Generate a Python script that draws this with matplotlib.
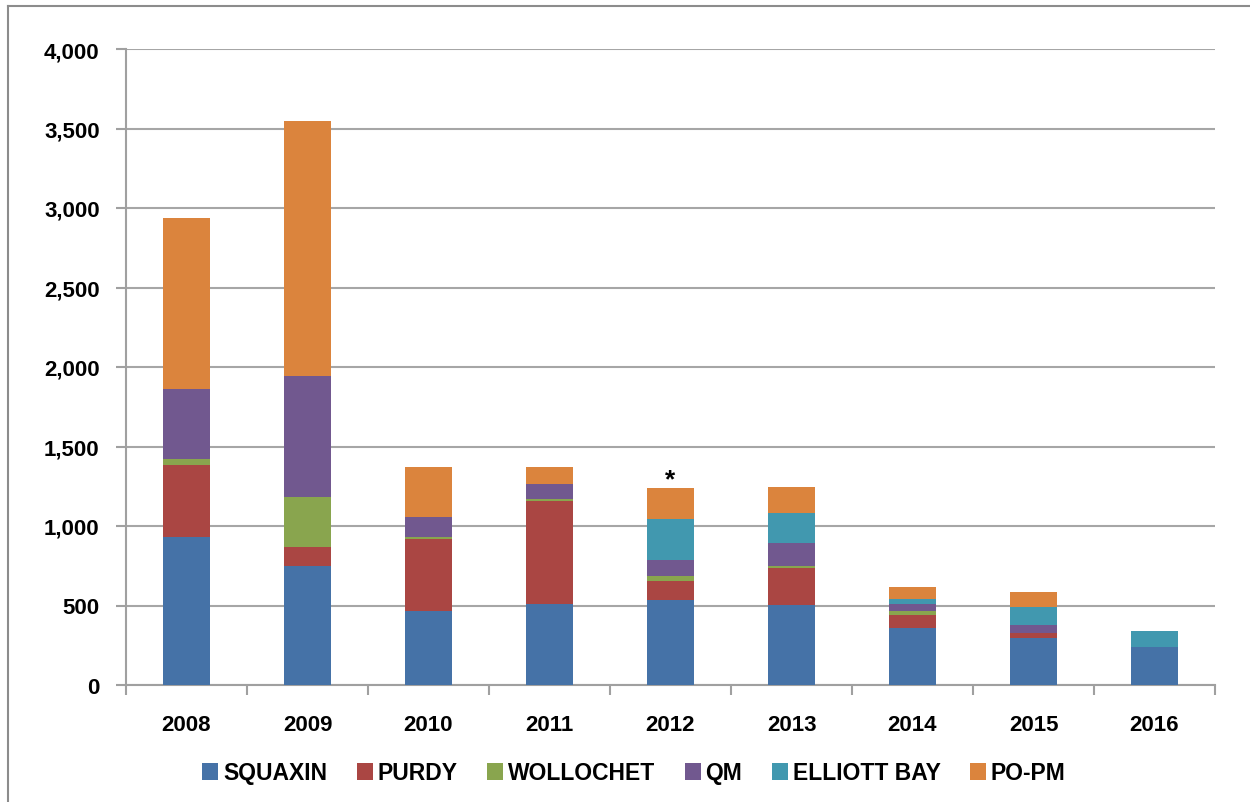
import matplotlib
matplotlib.use("Agg")
import matplotlib.pyplot as plt
from matplotlib.lines import Line2D
import numpy as np

plt.rcParams['font.family'] = ['Liberation Sans', 'DejaVu Sans']

years = ['2008', '2009', '2010', '2011', '2012', '2013', '2014', '2015', '2016']
series_names = ['SQUAXIN', 'PURDY', 'WOLLOCHET', 'QM', 'ELLIOTT BAY', 'PO-PM']
squaxin = [928, 748, 466, 510, 537, 502, 357, 293, 238]
purdy = [453, 117, 451, 646, 119, 236, 82, 37, 0]
wollochet = [38, 318, 11, 16, 27, 10, 27, 0, 0]
qm = [445, 763, 127, 93, 101, 144, 46, 46, 0]
elliott_bay = [0, 0, 0, 0, 263, 191, 27, 117, 101]
po_pm = [1076, 1604, 318, 108, 190, 163, 80, 90, 0]
colors = ['#4572A7', '#AA4643', '#89A54E', '#71588F', '#4198AF', '#DB843D']
yticks = [0, 500, 1000, 1500, 2000, 2500, 3000, 3500, 4000]
note_year = '2012'
note_text = '*'

W, H = 1250, 803
fig = plt.figure(figsize=(W / 100, H / 100), dpi=100)
ax = fig.add_axes([126 / W, 1 - 686 / H, (1215 - 126) / W, (686 - 50) / H])

data = [squaxin, purdy, wollochet, qm, elliott_bay, po_pm]
x = np.arange(len(years))
bottom = np.zeros(len(years))
handles = []
for name, vals, c in zip(series_names, data, colors):
    vals = np.array(vals, dtype=float)
    b = ax.bar(x, vals, 0.39, bottom=bottom, color=c, label=name, zorder=3,
               linewidth=0)
    handles.append(b)
    bottom += vals

ni = years.index(note_year)
ax.annotate(note_text, xy=(x[ni], bottom[ni]), xytext=(0, 9),
            textcoords='offset pixels', ha='center', va='center',
            fontsize=19, fontweight='bold', color='black', zorder=5)

ax.set_xlim(-0.5, len(years) - 0.5)
ax.set_ylim(0, 4000)
ax.set_yticks(yticks)
ax.set_yticklabels([f'{v:,}' for v in yticks], fontsize=16, fontweight='bold')
ax.set_xticks(x)
ax.set_xticklabels(years, fontsize=16, fontweight='bold')
ax.set_xticks(np.arange(-0.5, len(years)), minor=True)
ax.tick_params(axis='x', which='major', length=0, pad=21)
ax.tick_params(axis='x', which='minor', length=7, color='#A0A0A0', width=1.5,
               direction='out')
ax.tick_params(axis='y', which='major', length=7, color='#A0A0A0', width=1.5,
               pad=12)
ax.grid(axis='y', color='#A6A6A6', linewidth=1.5, zorder=0)
ax.set_axisbelow(True)
for s in ['top', 'right']:
    ax.spines[s].set_visible(False)
for s in ['left', 'bottom']:
    ax.spines[s].set_color('#A0A0A0')
    ax.spines[s].set_linewidth(1.5)

leg = fig.legend(handles=handles, labels=series_names, loc='center',
                 bbox_to_anchor=(634 / W, 1 - 774 / H), ncol=6, frameon=False,
                 prop={'weight': 'bold', 'size': 16.5}, handlelength=0.7,
                 handleheight=0.8, handletextpad=0.2, columnspacing=1.3)

# outer frame (left and top edges visible)
fig.add_artist(Line2D([8 / W, 8 / W], [0, 1 - 7 / H], transform=fig.transFigure,
                      color='#8C8C8C', linewidth=1.5))
fig.add_artist(Line2D([8 / W, 1], [1 - 7 / H, 1 - 7 / H], transform=fig.transFigure,
                      color='#8C8C8C', linewidth=1.5))

fig.savefig('out.png', dpi=100)
